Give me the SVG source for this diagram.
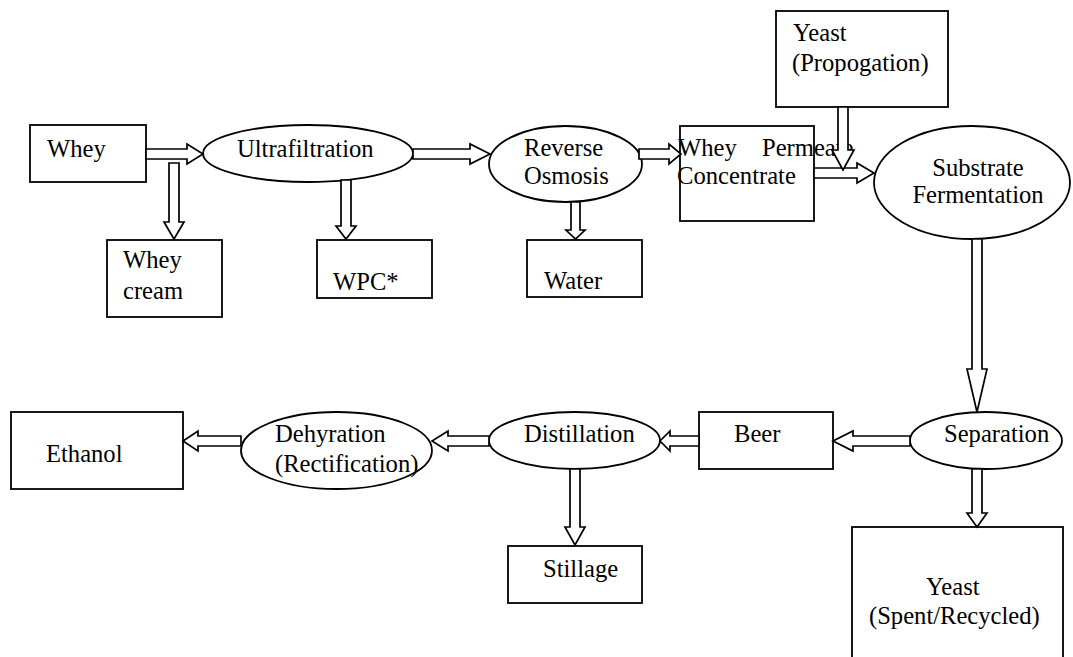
<svg xmlns="http://www.w3.org/2000/svg" width="1073" height="657" viewBox="0 0 1073 657">
<style>
.n{fill:#fff;stroke:#000;stroke-width:1.8}
.t{font-family:"Liberation Serif","Times New Roman",serif;font-size:24.6px;fill:#000}
.a{fill:#fff;stroke:#000;stroke-width:1.7;stroke-linejoin:miter}
</style>
<rect width="1073" height="657" fill="#fff"/>
<g id="whey"><rect class="n" x="30" y="125" width="116" height="57"/><text class="t" x="47" y="157">Whey</text></g>
<g id="ultrafiltration"><ellipse class="n" cx="308" cy="153.5" rx="105" ry="28.5"/><text class="t" x="237" y="157">Ultrafiltration</text></g>
<g id="reverse-osmosis"><ellipse class="n" cx="565.5" cy="164" rx="76.5" ry="38"/><text class="t" x="524" y="156">Reverse</text><text class="t" x="524" y="184">Osmosis</text></g>
<g id="whey-permeate"><rect class="n" x="680" y="126" width="134" height="95"/><text class="t" x="678" y="156">Whey</text><text class="t" x="762" y="156">Permeate</text><text class="t" x="677" y="184">Concentrate</text></g>
<g id="yeast-propagation"><rect class="n" x="776" y="11" width="172" height="96"/><text class="t" x="793" y="41">Yeast</text><text class="t" x="792" y="71">(Propogation)</text></g>
<g id="substrate-fermentation"><ellipse class="n" cx="972" cy="182.5" rx="98" ry="56.5"/><text class="t" x="978" y="176" text-anchor="middle">Substrate</text><text class="t" x="978" y="203" text-anchor="middle">Fermentation</text></g>
<g id="whey-cream"><rect class="n" x="107" y="240" width="115" height="77"/><text class="t" x="123" y="268">Whey</text><text class="t" x="123" y="299">cream</text></g>
<g id="wpc"><rect class="n" x="317" y="240" width="115" height="58"/><text class="t" x="333" y="290">WPC*</text></g>
<g id="water"><rect class="n" x="527" y="240" width="115" height="57"/><text class="t" x="544" y="289">Water</text></g>
<g id="separation"><ellipse class="n" cx="986" cy="440.5" rx="76" ry="28.5"/><text class="t" x="944" y="442">Separation</text></g>
<g id="beer"><rect class="n" x="699" y="412" width="134" height="57"/><text class="t" x="734" y="442">Beer</text></g>
<g id="distillation"><ellipse class="n" cx="574.5" cy="440.5" rx="85.5" ry="28.5"/><text class="t" x="524" y="442">Distillation</text></g>
<g id="dehydration"><ellipse class="n" cx="336.5" cy="450.5" rx="95.5" ry="38.5"/><text class="t" x="275" y="442">Dehyration</text><text class="t" x="275" y="472">(Rectification)</text></g>
<g id="ethanol"><rect class="n" x="11" y="412" width="172" height="77"/><text class="t" x="46" y="462">Ethanol</text></g>
<g id="stillage"><rect class="n" x="508" y="546" width="134" height="57"/><text class="t" x="543" y="577">Stillage</text></g>
<g id="yeast-spent"><rect class="n" x="852" y="527" width="211" height="140"/><text class="t" x="926" y="595">Yeast</text><text class="t" x="869" y="624">(Spent/Recycled)</text></g>
<g id="connectors">
<polygon class="a" points="146,149 187,149 187,144 203,154 187,164 187,159 146,159"/>
<polygon class="a" points="413,149 470,149 470,144 490,154 470,164 470,159 413,159"/>
<polygon class="a" points="639,149 669,149 669,144 681,154 669,164 669,159 639,159"/>
<polygon class="a" points="814,168 857,168 857,163 874,173 857,183 857,178 814,178"/>
<polygon class="a" points="838,107 848,107 848,150 854,150 843,170 832,150 838,150"/>
<polygon class="a" points="169,163 179,163 179,222 184,222 174,239 164,222 169,222"/>
<polygon class="a" points="341,180 351,180 351,226 356,226 346,239 336,226 341,226"/>
<polygon class="a" points="571,202 580,202 580,230 585,230 575.5,239 566,230 571,230"/>
<polygon class="a" points="972,239 982,239 982,369 987,369 977,412 967,369 972,369"/>
<polygon class="a" points="972,469 982,469 982,513 987,513 977,527 967,513 972,513"/>
<polygon class="a" points="910,436 853,436 853,431 833,441 853,451 853,446 910,446"/>
<polygon class="a" points="699,436 670,436 670,431 660,441 670,451 670,446 699,446"/>
<polygon class="a" points="489,436 448,436 448,431 432,441 448,451 448,446 489,446"/>
<polygon class="a" points="241,436 198,436 198,431 183,441 198,451 198,446 241,446"/>
<polygon class="a" points="570,469 580,469 580,527 585,527 575,545 565,527 570,527"/>
</g>
</svg>
